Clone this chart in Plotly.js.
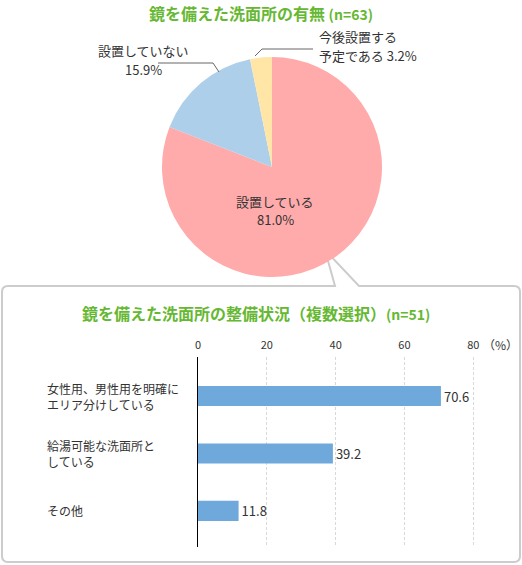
<!DOCTYPE html>
<html>
<head>
<meta charset="utf-8">
<script src="https://cdn.plot.ly/plotly-3.0.1.min.js"></script>
<style>
  html, body { margin:0; padding:0; background:#fff; }
  #chart { width:522px; height:565px; }
</style>
</head>
<body>
<div id="chart"></div>
<script>
(function(){
  // pie: 鏡を備えた洗面所の有無
  const pieLabels = ['設置している', '設置していない', '今後設置する予定である'];
  const pieValues = [81.0, 15.9, 3.2];
  const pieColors = ['#ffabab', '#aecfea', '#ffe6a6'];

  // bars: 整備状況（複数選択）
  const barLabels = ['女性用、男性用を明確に<br>エリア分けしている', '給湯可能な洗面所と<br>している', 'その他'];
  const barValues = [70.6, 39.2, 11.8];
  const xTicks = [0, 20, 40, 60, 80];

  const W = 522, H = 565;
  const px = x => x / W, py = y => 1 - y / H;
  const font = 'Meiryo, "Noto Sans CJK JP", sans-serif';
  const green = '#66b832';
  const pct = v => v.toFixed(1) + '%';

  const pie = {
    type:'pie', labels: pieLabels, values: pieValues, sort:false,
    direction:'clockwise', rotation:0, textinfo:'none', hoverinfo:'label+value',
    marker:{ colors: pieColors, line:{ width:0 } },
    domain:{ x:[px(162), px(382)], y:[py(277), py(57)] },
    showlegend:false
  };

  const bar = {
    type:'bar', orientation:'h', x: barValues, y: barLabels,
    xaxis:'x', yaxis:'y', width:0.35,
    marker:{ color:'#6fa9db' },
    text: barValues.map(v => v.toFixed(1)), textposition:'outside',
    textfont:{ size:13, color:'#333' }, cliponaxis:false,
    hoverinfo:'x+y', showlegend:false
  };

  function note(text, x, y, xanchor, size, extra){
    return Object.assign({ text:text, x:px(x), y:py(y), xref:'paper', yref:'paper',
      xanchor:xanchor, yanchor:'middle', showarrow:false,
      font:{ size:size, color:'#333', family: font } }, extra || {});
  }

  const titleFont = { size:16, color: green, family: font };
  const annotations = [
    note('<b>鏡を備えた洗面所の有無</b> <b><span style="font-size:14px">(n=63)</span></b>', 261, 13, 'center', 16, { font:titleFont }),
    note('<b>鏡を備えた洗面所の整備状況（複数選択）</b><b><span style="font-size:14px">(n=51)</span></b>', 256, 313, 'center', 16, { font:titleFont }),
    note(pieLabels[0], 275, 201, 'center', 13),
    note(pct(pieValues[0]), 275, 220, 'center', 13),
    note(pieLabels[1], 143, 51, 'center', 13),
    note(pct(pieValues[1]), 143, 70, 'center', 13),
    note('今後設置する', 317, 36, 'left', 13),
    note('予定である ' + pct(pieValues[2]), 317, 55, 'left', 13),
    note('（%）', 481, 344, 'left', 12)
  ];
  barLabels.forEach(function(l){
    annotations.push({ text:l, x:px(45), y:l, xref:'paper', yref:'y', xanchor:'left', yanchor:'middle',
      align:'left', showarrow:false, font:{ size:12, color:'#333', family: font } });
  });

  const shapes = [
    // callout box with pointer towards the pie
    { type:'path', xref:'paper', yref:'paper', layer:'below',
      path:'M '+px(8)+','+py(286)+' L '+px(335)+','+py(286)+' L '+px(325)+','+py(250)+' L '+px(359)+','+py(286)+
           ' L '+px(514)+','+py(286)+' Q '+px(520)+','+py(286)+' '+px(520)+','+py(292)+
           ' L '+px(520)+','+py(556)+' Q '+px(520)+','+py(562)+' '+px(514)+','+py(562)+
           ' L '+px(8)+','+py(562)+' Q '+px(2)+','+py(562)+' '+px(2)+','+py(556)+
           ' L '+px(2)+','+py(292)+' Q '+px(2)+','+py(286)+' '+px(8)+','+py(286)+' Z',
      line:{ color:'#cccccc', width:2 }, fillcolor:'#ffffff' },
    // leader lines
    { type:'path', xref:'paper', yref:'paper',
      path:'M '+px(158)+','+py(63)+' L '+px(213)+','+py(63)+' L '+px(219)+','+py(72),
      line:{ color:'#666', width:1 } },
    { type:'path', xref:'paper', yref:'paper',
      path:'M '+px(255)+','+py(56)+' L '+px(262)+','+py(49)+' L '+px(313)+','+py(49),
      line:{ color:'#666', width:1 } }
  ];

  const layout = {
    width:W, height:H, margin:{ l:0, r:0, t:0, b:0 },
    paper_bgcolor:'#fff', plot_bgcolor:'rgba(0,0,0,0)',
    font:{ family: font, color:'#333' },
    xaxis:{ domain:[px(198), px(475)], range:[0, 80.5], side:'top', tickvals:xTicks,
      showgrid:true, gridcolor:'#d9d9d9', griddash:'3px,2px', gridwidth:1,
      zeroline:false, showline:false, ticks:'', ticklabelstandoff:5,
      tickfont:{ size:11, color:'#333' }, anchor:'y', fixedrange:true },
    yaxis:{ domain:[py(547), py(357)], type:'category', range:[2.63, -0.68],
      showticklabels:false, showgrid:false, zeroline:false,
      showline:true, linecolor:'#000', linewidth:1.5, anchor:'x', fixedrange:true },
    annotations: annotations,
    shapes: shapes
  };

  Plotly.newPlot('chart', [bar, pie], layout, { displayModeBar:false, staticPlot:true });
})();
</script>
</body>
</html>
